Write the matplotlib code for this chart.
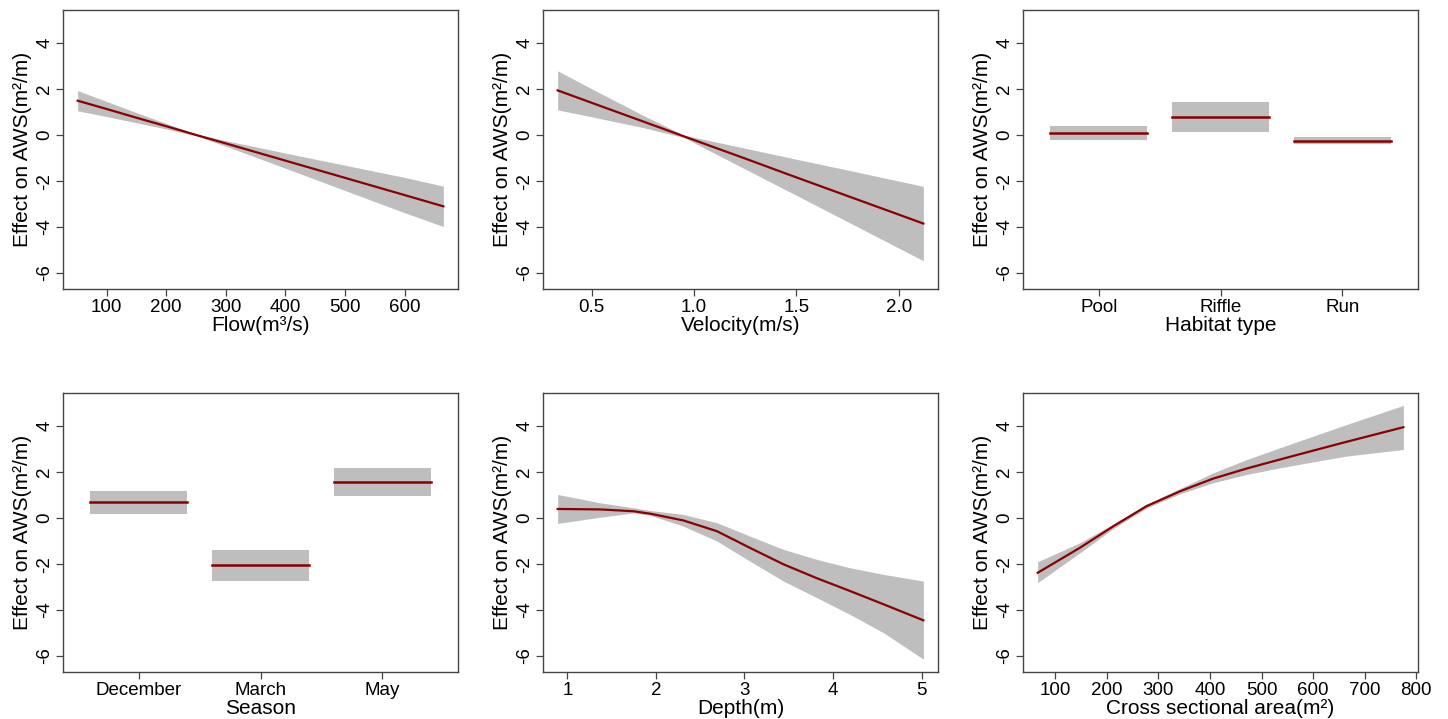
import numpy as np
import matplotlib.pyplot as plt

plt.rcParams['font.family'] = ['Liberation Sans', 'DejaVu Sans']
plt.rcParams['axes.unicode_minus'] = False

# --- panel data ---
flow_x = [51.5, 100, 150, 200, 250, 300, 400, 500, 600, 665]
flow_fit = [1.50, 1.14, 0.76, 0.39, 0.01, -0.36, -1.11, -1.86, -2.61, -3.10]
flow_lo = [1.06, 0.81, 0.54, 0.27, -0.03, -0.48, -1.44, -2.41, -3.38, -3.98]
flow_hi = [1.94, 1.47, 0.98, 0.51, 0.05, -0.24, -0.78, -1.31, -1.84, -2.22]

vel_x = [0.334, 0.5, 0.75, 0.95, 1.25, 1.5, 1.75, 2.0, 2.12]
vel_fit = [1.95, 1.41, 0.60, -0.05, -1.02, -1.84, -2.65, -3.46, -3.85]
vel_lo = [1.10, 0.80, 0.33, -0.10, -1.48, -2.62, -3.77, -4.92, -5.47]
vel_hi = [2.80, 2.02, 0.87, 0.00, -0.57, -1.05, -1.52, -2.00, -2.23]

habitat = ['Pool', 'Riffle', 'Run']
habitat_fit = [0.10, 0.80, -0.25]
habitat_lo = [-0.20, 0.12, -0.40]
habitat_hi = [0.38, 1.45, -0.10]

season = ['December', 'March', 'May']
season_fit = [0.70, -2.05, 1.58]
season_lo = [0.20, -2.75, 0.95]
season_hi = [1.20, -1.38, 2.20]

depth_x = [0.89, 1.37, 1.75, 1.94, 2.31, 2.69, 3.06, 3.44, 3.82, 4.19, 4.57, 5.02]
depth_fit = [0.40, 0.38, 0.30, 0.19, -0.10, -0.57, -1.29, -2.01, -2.62, -3.17, -3.75, -4.45]
depth_lo = [-0.23, 0.04, 0.23, 0.12, -0.35, -1.00, -1.87, -2.74, -3.47, -4.19, -4.99, -6.14]
depth_hi = [1.03, 0.67, 0.45, 0.33, 0.16, -0.20, -0.78, -1.36, -1.80, -2.16, -2.45, -2.74]

area_x = [66, 148, 213, 277, 342, 406, 471, 535, 600, 664, 775]
area_fit = [-2.38, -1.29, -0.35, 0.52, 1.17, 1.72, 2.16, 2.55, 2.94, 3.32, 3.96]
area_lo = [-2.81, -1.51, -0.45, 0.44, 1.06, 1.54, 1.90, 2.19, 2.45, 2.70, 2.99]
area_hi = [-1.90, -1.07, -0.25, 0.60, 1.29, 1.97, 2.55, 3.06, 3.57, 4.07, 4.91]

band_col = '#bebebe'
line_col = '#8b0000'
ylab = 'Effect on AWS(m\u00b2/m)'

fig = plt.figure(figsize=(14.48, 7.19), dpi=100)

lefts = [63, 543, 1023]
rows = [10, 393]
W, H = 395, 279


def make_ax(col, row):
    l = lefts[col] / 1448
    b = 1 - (rows[row] + H) / 719
    ax = fig.add_axes([l, b, W / 1448, H / 719])
    ax.set_ylim(-6.7, 5.45)
    ax.set_yticks([-6, -4, -2, 0, 2, 4])
    ax.set_yticklabels(['-6', '-4', '-2', '0', '2', '4'], rotation=90, va='center')
    for s in ax.spines.values():
        s.set_color('#444444')
        s.set_linewidth(1.0)
    ax.tick_params(direction='out', length=5, width=0.9, color='#444444',
                   labelsize=13.5, pad=2)
    ax.set_ylabel(ylab, fontsize=15, labelpad=3)
    return ax


def smooth_panel(ax, x, fit, lo, hi, xlabel, ticks):
    ax.fill_between(x, lo, hi, color=band_col, linewidth=0)
    ax.plot(x, fit, color=line_col, lw=1.6)
    span = x[-1] - x[0]
    ax.set_xlim(x[0] - 0.04 * span, x[-1] + 0.04 * span)
    ax.set_xticks(ticks)
    ax.set_xlabel(xlabel, fontsize=15, labelpad=0)


def factor_panel(ax, cats, fit, lo, hi, xlabel):
    pos = np.arange(1, len(cats) + 1)
    for p, f, a, b in zip(pos, fit, lo, hi):
        ax.fill_between([p - 0.4, p + 0.4], [a, a], [b, b], color=band_col, linewidth=0)
        ax.plot([p - 0.4, p + 0.4], [f, f], color=line_col, lw=1.8)
    ax.set_xlim(0.378, 3.622)
    ax.set_xticks(pos)
    ax.set_xticklabels(cats)
    ax.set_xlabel(xlabel, fontsize=15, labelpad=0)


ax = make_ax(0, 0)
smooth_panel(ax, flow_x, flow_fit, flow_lo, flow_hi, 'Flow(m\u00b3/s)', [100, 200, 300, 400, 500, 600])

ax = make_ax(1, 0)
smooth_panel(ax, vel_x, vel_fit, vel_lo, vel_hi, 'Velocity(m/s)', [0.5, 1.0, 1.5, 2.0])
ax.set_xticklabels(['0.5', '1.0', '1.5', '2.0'])

ax = make_ax(2, 0)
factor_panel(ax, habitat, habitat_fit, habitat_lo, habitat_hi, 'Habitat type')

ax = make_ax(0, 1)
factor_panel(ax, season, season_fit, season_lo, season_hi, 'Season')

ax = make_ax(1, 1)
smooth_panel(ax, depth_x, depth_fit, depth_lo, depth_hi, 'Depth(m)', [1, 2, 3, 4, 5])

ax = make_ax(2, 1)
smooth_panel(ax, area_x, area_fit, area_lo, area_hi, 'Cross sectional area(m\u00b2)',
             [100, 200, 300, 400, 500, 600, 700, 800])

fig.savefig('out.png', dpi=100)
